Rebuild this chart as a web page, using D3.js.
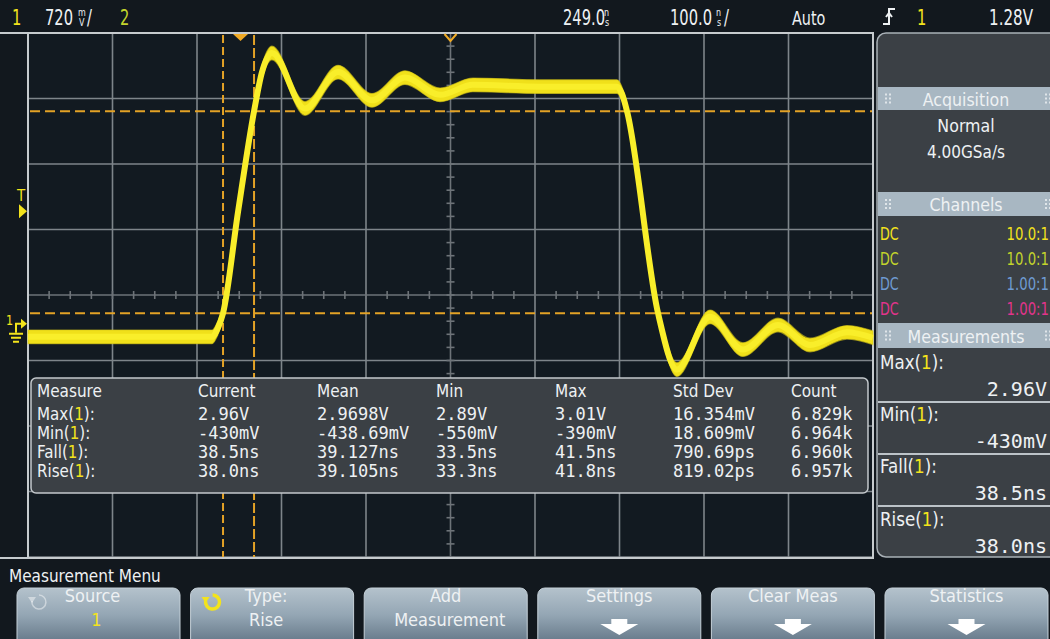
<!DOCTYPE html>
<html>
<head>
<meta charset="utf-8">
<script src="https://cdn.jsdelivr.net/npm/d3@7"></script>
<style>
body { margin: 0; background: #12181e; }
svg { display: block; }
</style>
</head>
<body>
<div id="scope"></div>
<script>
// scope settings (from the status line)
var timePerDiv = 100;     // ns/div
var delay = 249;          // ns at screen centre
var voltPerDiv = 0.72;    // V/div
var centerV = 0.36;       // V at screen centre (ground marker is half a div below)
var trigLevel = 1.28;     // V

// channel 1 trace (ns, V)
var traceT = [-251, -33.2, -26.2, -20.2, -2.5, 16.5, 25.9, 37.7, 76.8, 115.9, 156.1, 195.1, 236.6, 275.6, 354.9, 446.0, 452.0, 457.9, 494.6, 517.0, 556.1, 595.1, 636.6, 674.4, 718.2, 749];
var traceV = [-0.10, -0.10, 0.0, 0.16, 1.27, 2.38, 2.81, 3.02, 2.41, 2.81, 2.50, 2.75, 2.56, 2.67, 2.65, 2.65, 2.57, 2.38, 0.16, -0.46, 0.12, -0.24, 0.03, -0.19, -0.05, -0.11];

// rise measurement cursors
var cursorV = [2.38, 0.16];
var cursorT = [-20.2, 16.5];

// statistics table
var measCols = ["Measure", "Current", "Mean", "Min", "Max", "Std Dev", "Count"];
var measNames = ["Max", "Min", "Fall", "Rise"];
var measCurrent = ["2.96V", "-430mV", "38.5ns", "38.0ns"];
var measMean = ["2.9698V", "-438.69mV", "39.127ns", "39.105ns"];
var measMin = ["2.89V", "-550mV", "33.5ns", "33.3ns"];
var measMax = ["3.01V", "-390mV", "41.5ns", "41.8ns"];
var measStd = ["16.354mV", "18.609mV", "790.69ps", "819.02ps"];
var measCount = ["6.829k", "6.964k", "6.960k", "6.957k"];

// side panel
var chanCoupling = ["DC", "DC", "DC", "DC"];
var chanProbe = ["10.0:1", "10.0:1", "1.00:1", "1.00:1"];
var chanColor = ["#f3e31c", "#c3d42c", "#6f9bd2", "#e2348c"];

// softkeys
var btnTop = ["Source", "Type:", "Add", "Settings", "Clear Meas", "Statistics"];
var btnBottom = ["1", "Rise", "Measurement", "", "", ""];

var W = 1050, H = 639;
var X0 = 28, X1 = 873, Y0 = 33, Y1 = 557;

var x = d3.scaleLinear()
    .domain([delay - 5 * timePerDiv, delay + 5 * timePerDiv])
    .range([X0, X1]);
var y = d3.scaleLinear()
    .domain([centerV - 4 * voltPerDiv, centerV + 4 * voltPerDiv])
    .range([Y1, Y0]);

var svg = d3.select("#scope").append("svg")
    .attr("width", W)
    .attr("height", H);

svg.append("rect").attr("width", W).attr("height", H).attr("fill", "#12181e");

var defs = svg.append("defs");
var grad = defs.append("linearGradient").attr("id", "btn").attr("x1", 0).attr("y1", 0).attr("x2", 0).attr("y2", 1);
grad.append("stop").attr("offset", "0%").attr("stop-color", "#b4c2cc");
grad.append("stop").attr("offset", "45%").attr("stop-color", "#94a6b4");
grad.append("stop").attr("offset", "100%").attr("stop-color", "#5c6f80");

function tx(g, px, py, s, o) {
    o = o || {};
    return g.append("text")
        .attr("transform", "translate(" + px + "," + py + ") scale(" + (o.sx || 1) + "," + (o.sy || 1) + ")")
        .attr("font-size", o.size || 18)
        .attr("fill", o.fill || "#eef1f3")
        .attr("text-anchor", o.anchor || "start")
        .style("font-family", o.mono ? "'DejaVu Sans Mono', monospace" : "'DejaVu Sans', sans-serif")
        .text(s);
}

// label like "Max(1):" with the channel number in yellow
function measLabel(g, px, py, name, o) {
    var t = tx(g, px, py, "", o);
    t.append("tspan").text(name + "(");
    t.append("tspan").attr("fill", chanColor[0]).text("1");
    t.append("tspan").text("):");
    return t;
}

/* ---- status line ---- */
var hdr = svg.append("g");
tx(hdr, 12, 25, "1", {size: 21, sx: 0.7, fill: chanColor[0]});
tx(hdr, 45, 25, "720", {size: 21, sx: 0.7});
tx(hdr, 78, 16, "m", {size: 10, sx: 0.8});
tx(hdr, 79, 26, "V", {size: 10, sx: 0.8});
tx(hdr, 87, 25, "/", {size: 21, sx: 0.7});
tx(hdr, 120, 25, "2", {size: 21, sx: 0.7, fill: chanColor[1]});

tx(hdr, 563, 25, d3.format(".1f")(delay), {size: 21, sx: 0.7});
tx(hdr, 604, 16, "n", {size: 10, sx: 0.8});
tx(hdr, 605, 26, "s", {size: 10, sx: 0.8});
tx(hdr, 670, 25, d3.format(".1f")(timePerDiv), {size: 21, sx: 0.7});
tx(hdr, 716, 16, "n", {size: 10, sx: 0.8});
tx(hdr, 717, 26, "s", {size: 10, sx: 0.8});
tx(hdr, 724, 25, "/", {size: 21, sx: 0.7});
tx(hdr, 792, 25, "Auto", {size: 20, sx: 0.72});
// rising-edge trigger icon
hdr.append("path")
    .attr("d", "M883,24 h6 v-15 h6 M886,17 l3,-4 l3,4")
    .attr("fill", "none").attr("stroke", "#eef1f3").attr("stroke-width", 2);
tx(hdr, 917, 25, "1", {size: 21, sx: 0.7, fill: chanColor[0]});
tx(hdr, 1033, 25, d3.format(".2f")(trigLevel) + "V", {size: 21, sx: 0.72, anchor: "end"});

/* ---- graticule ---- */
var plot = svg.append("g");
plot.append("rect")
    .attr("x", X0).attr("y", Y0).attr("width", X1 - X0).attr("height", Y1 - Y0)
    .attr("fill", "#121a21");

var gridT = d3.range(0, 11).map(function(i) { return x.domain()[0] + i * timePerDiv; });
var gridV = d3.range(0, 9).map(function(i) { return y.domain()[0] + i * voltPerDiv; });

plot.selectAll("line.gx").data(gridT).enter().append("line")
    .attr("class", "gx")
    .attr("x1", function(d) { return x(d); }).attr("x2", function(d) { return x(d); })
    .attr("y1", Y0).attr("y2", Y1)
    .attr("stroke", function(d, i) { return i == 5 ? "#6d7378" : "#7e858a"; })
    .attr("stroke-width", 1.6);

plot.selectAll("line.gy").data(gridV).enter().append("line")
    .attr("class", "gy")
    .attr("x1", X0).attr("x2", X1)
    .attr("y1", function(d) { return y(d); }).attr("y2", function(d) { return y(d); })
    .attr("stroke", function(d, i) { return i == 4 ? "#6d7378" : "#7e858a"; })
    .attr("stroke-width", 1.6);

// minor ticks on the centre axes
var minorT = d3.range(0, 41).map(function(i) { return x.domain()[0] + i * timePerDiv / 4; });
var minorV = d3.range(0, 41).map(function(i) { return y.domain()[0] + i * voltPerDiv / 5; });
plot.selectAll("line.mt").data(minorT).enter().append("line")
    .attr("class", "mt")
    .attr("x1", function(d) { return x(d); }).attr("x2", function(d) { return x(d); })
    .attr("y1", y(centerV) - 4).attr("y2", y(centerV) + 4)
    .attr("stroke", "#6d7378").attr("stroke-width", 1.6);
plot.selectAll("line.mv").data(minorV).enter().append("line")
    .attr("class", "mv")
    .attr("x1", x(delay) - 4).attr("x2", x(delay) + 4)
    .attr("y1", function(d) { return y(d); }).attr("y2", function(d) { return y(d); })
    .attr("stroke", "#6d7378").attr("stroke-width", 1.6);

// frame
plot.append("line").attr("x1", 0).attr("x2", X1 + 1).attr("y1", Y0).attr("y2", Y0)
    .attr("stroke", "#c6cbce").attr("stroke-width", 2);
plot.append("line").attr("x1", 0).attr("x2", X1 + 1).attr("y1", Y1 + 1).attr("y2", Y1 + 1)
    .attr("stroke", "#c6cbce").attr("stroke-width", 2);
plot.append("line").attr("x1", X0).attr("x2", X0).attr("y1", Y0).attr("y2", Y1)
    .attr("stroke", "#c6cbce").attr("stroke-width", 2);
plot.append("line").attr("x1", X1).attr("x2", X1).attr("y1", Y0).attr("y2", Y1)
    .attr("stroke", "#c6cbce").attr("stroke-width", 2);

/* ---- cursors ---- */
var cur = svg.append("g");
cur.selectAll("line.ch").data(cursorV).enter().append("line")
    .attr("class", "ch")
    .attr("x1", X0 + 2).attr("x2", X1 - 1)
    .attr("y1", function(d) { return y(d); }).attr("y2", function(d) { return y(d); })
    .attr("stroke", "#e3a226").attr("stroke-width", 2)
    .attr("stroke-dasharray", "10,5");
cur.selectAll("line.cv").data(cursorT).enter().append("line")
    .attr("class", "cv")
    .attr("x1", function(d) { return x(d); }).attr("x2", function(d) { return x(d); })
    .attr("y1", Y0 + 2).attr("y2", Y1)
    .attr("stroke", "#e3a226").attr("stroke-width", 2)
    .attr("stroke-dasharray", function(d, i) { return i == 0 ? "8,4" : "10,3"; });

/* ---- trace ---- */
var pts = traceT.map(function(t, i) { return [t, traceV[i]]; });
var band = d3.area()
    .x(function(d) { return x(d[0]); })
    .y0(function(d) { return y(d[1] - 0.075); })
    .y1(function(d) { return y(d[1] + 0.075); })
    .curve(d3.curveMonotoneX);
var line = d3.line()
    .x(function(d) { return x(d[0]); })
    .y(function(d) { return y(d[1]); })
    .curve(d3.curveMonotoneX);

var tr = svg.append("g");
tr.append("path").datum(pts).attr("d", band)
    .attr("fill", "#f0e01a").attr("stroke", "#d8c816").attr("stroke-width", 1.2)
    .attr("stroke-opacity", 0.6);
tr.append("path").datum(pts).attr("d", line)
    .attr("fill", "none").attr("stroke", "#f9ee2a").attr("stroke-width", 6)
    .attr("stroke-linejoin", "round");

/* ---- markers ---- */
var mk = svg.append("g");
mk.append("path").attr("d", "M233,34 L248,34 L240.5,41 Z").attr("fill", "#efa924");
mk.append("path").attr("d", "M" + (x(delay) - 6) + ",34 L" + x(delay) + ",41 L" + (x(delay) + 6) + ",34")
    .attr("fill", "none").attr("stroke", "#efa924").attr("stroke-width", 2);
tx(mk, 17, 201, "T", {size: 15, sx: 0.9, fill: chanColor[0]});
var ty = y(trigLevel);
mk.append("path").attr("d", "M19," + (ty - 7) + " L27," + ty + " L19," + (ty + 7) + " Z").attr("fill", chanColor[0]);
var gy0 = y(0);
tx(mk, 6, gy0 - 3, "1", {size: 14, sx: 0.8, fill: chanColor[0]});
mk.append("path").attr("d", "M16," + (gy0 + 5) + " V" + (gy0 - 4) + " H21")
    .attr("fill", "none").attr("stroke", chanColor[0]).attr("stroke-width", 2);
mk.append("path").attr("d", "M21," + (gy0 - 9) + " L27," + (gy0 - 4) + " L21," + (gy0 + 1) + " Z").attr("fill", chanColor[0]);
mk.append("path").attr("d", "M9," + (gy0 + 6) + " h14 M11," + (gy0 + 10) + " h10 M13," + (gy0 + 14) + " h6")
    .attr("stroke", chanColor[0]).attr("stroke-width", 2);

/* ---- statistics table ---- */
var tbl = svg.append("g");
tbl.append("rect")
    .attr("x", 31).attr("y", 378).attr("width", 837).attr("height", 115).attr("rx", 5)
    .attr("fill", "#3b4045").attr("stroke", "#c3c8cc").attr("stroke-width", 1.5);
var colX = [37, 198, 317, 436, 555, 673, 791];
var rowY = [420, 439, 458, 477];
measCols.forEach(function(c, i) {
    tx(tbl, colX[i], 397, c, {size: 18, sx: 0.85});
});
var cols = [measCurrent, measMean, measMin, measMax, measStd, measCount];
measNames.forEach(function(n, r) {
    measLabel(tbl, colX[0], rowY[r], n, {size: 18, sx: 0.84});
    cols.forEach(function(c, i) {
        tx(tbl, colX[i + 1], rowY[r], c[r], {size: 17, mono: true});
    });
});

/* ---- side panel ---- */
var side = svg.append("g");
side.append("rect")
    .attr("x", 877).attr("y", 33).attr("width", 190).attr("height", 524).attr("rx", 9)
    .attr("fill", "#3b4045").attr("stroke", "#a9b1b7").attr("stroke-width", 1.5);

function header(yTop, h, title) {
    side.append("rect").attr("x", 878).attr("y", yTop).attr("width", 172).attr("height", h)
        .attr("fill", "#a8b7c2");
    [885, 1045].forEach(function(gx) {
        [0, 1].forEach(function(c) {
            [-4, 0, 4].forEach(function(r) {
                side.append("rect").attr("x", gx + c * 4).attr("y", yTop + h / 2 + r - 1)
                    .attr("width", 2).attr("height", 2).attr("fill", "#dfe5e9");
            });
        });
    });
    tx(side, 966, yTop + h / 2 + 7, title, {size: 18, sx: 0.88, anchor: "middle"});
}

header(87, 23, "Acquisition");
tx(side, 966, 132, "Normal", {size: 18, sx: 0.88, anchor: "middle"});
tx(side, 966, 158, "4.00GSa/s", {size: 18, sx: 0.85, anchor: "middle"});

header(192, 24, "Channels");
chanCoupling.forEach(function(c, i) {
    var by = 240 + i * 25;
    tx(side, 880, by, c, {size: 17, sx: 0.75, fill: chanColor[i]});
    tx(side, 1049, by, chanProbe[i], {size: 17, sx: 0.78, fill: chanColor[i], anchor: "end"});
});

header(323, 25, "Measurements");
var panelRows = [369, 421, 473, 526];
measNames.forEach(function(n, r) {
    measLabel(side, 880, panelRows[r], n, {size: 19, sx: 0.88});
    tx(side, 1047, panelRows[r] + 27, measCurrent[r], {size: 20, mono: true, anchor: "end"});
    if (r < 3) {
        side.append("line").attr("x1", 878).attr("x2", 1050)
            .attr("y1", panelRows[r] + 33).attr("y2", panelRows[r] + 33)
            .attr("stroke", "#bcc3c8").attr("stroke-width", 2);
    }
});

/* ---- softkeys ---- */
var menu = svg.append("g");
tx(menu, 9, 582, "Measurement Menu", {size: 17, sx: 0.9});

var bx = d3.scaleBand().domain(btnTop).range([17, 1048]).paddingInner(0.061);
var keys = menu.selectAll("g.key").data(btnTop).enter().append("g")
    .attr("class", "key")
    .attr("transform", function(d) { return "translate(" + bx(d) + ",588)"; });
keys.append("rect")
    .attr("width", bx.bandwidth()).attr("height", 60).attr("rx", 7)
    .attr("fill", "url(#btn)").attr("stroke", "#c5d0d8").attr("stroke-width", 1);

var bw = bx.bandwidth();
keys.each(function(d, i) {
    var k = d3.select(this);
    var cx = bw / 2 + (i < 2 ? -6 : 0);
    tx(k, cx, 14, d, {size: 18, sx: 0.9, anchor: "middle"});
    if (btnBottom[i]) {
        tx(k, cx + (i == 1 ? 0 : 4), 38, btnBottom[i], {size: 18, sx: 0.9, anchor: "middle",
            fill: i == 0 ? chanColor[0] : "#eef1f3"});
    } else {
        k.append("path")
            .attr("d", "M" + (bw / 2 - 8) + ",31 h16 v5 h11 l-19,11 l-19,-11 h11 Z")
            .attr("fill", "#ffffff");
    }
    if (i < 2) {
        // rotary knob icon
        var col = i == 0 ? "rgba(255,255,255,0.45)" : chanColor[0];
        k.append("path")
            .attr("d", "M" + 22 + ",7 A7,7 0 1,1 " + 15 + ",13")
            .attr("fill", "none").attr("stroke", col).attr("stroke-width", i == 0 ? 1.5 : 3.5);
        k.append("path").attr("d", "M11,9 L19,9 L15,15 Z").attr("fill", col);
    }
});
</script>
</body>
</html>
